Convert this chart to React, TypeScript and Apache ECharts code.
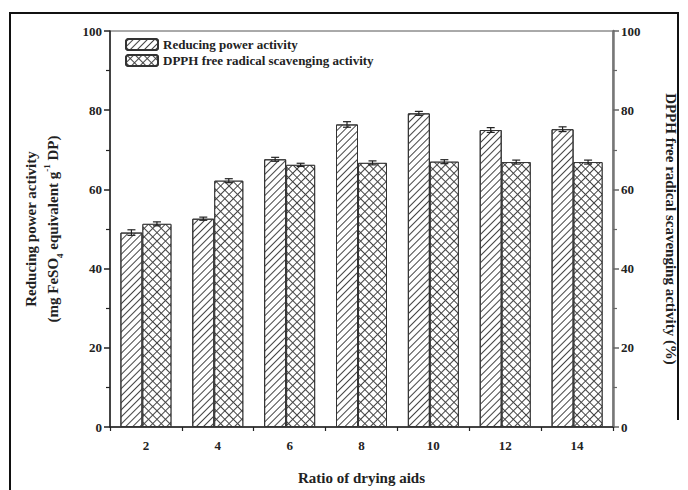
import React, { useEffect, useRef } from "react";
import * as echarts from "echarts";

const categories = ["2", "4", "6", "8", "10", "12", "14"];
const reducingPower = [49.1, 52.6, 67.6, 76.4, 79.2, 75.0, 75.2];
const reducingErr = [0.7, 0.4, 0.5, 0.7, 0.5, 0.6, 0.6];
const dpph = [51.3, 62.2, 66.2, 66.7, 67.0, 66.9, 66.9];
const dpphErr = [0.5, 0.5, 0.4, 0.5, 0.5, 0.5, 0.5];
const yTicks = { min: 0, max: 100, interval: 20 };

const FONT = "Liberation Serif";
const W1 = 22;
const W2 = 29;

function errSeries(name: string, vals: number[], errs: number[], offset: number, yAxisIndex: number) {
  return {
    type: "custom",
    name,
    yAxisIndex,
    silent: true,
    z: 5,
    data: vals.map((v, i) => [i, v, errs[i]]),
    renderItem: (params: any, api: any) => {
      const i = api.value(0);
      const v = api.value(1);
      const e = api.value(2);
      const top = api.coord([i, v + e]);
      const bot = api.coord([i, v - e]);
      const x = top[0] + offset;
      const style = { stroke: "#222", lineWidth: 1.2 };
      return {
        type: "group",
        children: [
          { type: "line", shape: { x1: x, y1: top[1], x2: x, y2: bot[1] }, style },
          { type: "line", shape: { x1: x - 4, y1: top[1], x2: x + 4, y2: top[1] }, style },
          { type: "line", shape: { x1: x - 4, y1: bot[1], x2: x + 4, y2: bot[1] }, style },
        ],
      };
    },
  };
}

export default function App() {
  const ref = useRef<HTMLDivElement>(null);
  useEffect(() => {
    document.body.style.margin = "0";
    if (!ref.current) return;
    const chart = echarts.init(ref.current, null, { renderer: "svg" });
    const labelStyle = { fontFamily: FONT, fontWeight: "bold" as const, fontSize: 13, color: "#222" };
    const groupStart = -(W1 + W2) / 2;
    const option: any = {
      animation: false,
      backgroundColor: "#fff",
      grid: { left: 110, right: 75, top: 31, bottom: 63, show: true, borderColor: "#555", borderWidth: 1 },
      legend: {
        orient: "vertical",
        left: 120,
        top: 33,
        itemWidth: 32,
        itemHeight: 11,
        itemGap: 3,
        data: ["Reducing power activity", "DPPH free radical scavenging activity"],
        textStyle: { fontFamily: FONT, fontWeight: "bold", fontSize: 13, color: "#222" },
      },
      xAxis: [
        {
          type: "category",
          data: categories,
          boundaryGap: true,
          name: "Ratio of drying aids",
          nameLocation: "middle",
          nameGap: 43,
          nameTextStyle: { fontFamily: FONT, fontWeight: "bold", fontSize: 15, color: "#222" },
          axisLine: { lineStyle: { color: "#222", width: 1.5 } },
          axisTick: { alignWithLabel: true, length: 7, lineStyle: { color: "#222", width: 1.5 } },
          axisLabel: { ...labelStyle, margin: 12 },
          splitLine: { show: false },
        },
        {
          type: "category",
          data: categories,
          position: "bottom",
          boundaryGap: true,
          axisLine: { show: false },
          axisLabel: { show: false },
          axisTick: { show: true, alignWithLabel: false, length: 4, lineStyle: { color: "#222", width: 1.2 } },
        },
      ],
      yAxis: [
        {
          type: "value",
          ...yTicks,
          position: "left",
          name:
            "{a|Reducing power activity}\n{b|(mg FeSO}{sub|4}{b| equivalent g}{sup|-1}{b| DP)}",
          nameLocation: "middle",
          nameRotate: 90,
          nameGap: 46,
          nameTextStyle: {
            fontFamily: FONT,
            fontWeight: "bold",
            color: "#222",
            lineHeight: 22,
            rich: {
              a: { fontFamily: FONT, fontWeight: "bold", fontSize: 15, color: "#222", lineHeight: 22 },
              b: { fontFamily: FONT, fontWeight: "bold", fontSize: 15, color: "#222", lineHeight: 22 },
              sub: { fontFamily: FONT, fontWeight: "bold", fontSize: 9, color: "#222", verticalAlign: "bottom", lineHeight: 19 },
              sup: { fontFamily: FONT, fontWeight: "bold", fontSize: 9, color: "#222", verticalAlign: "top", lineHeight: 19 },
            },
          },
          axisLine: { show: true, lineStyle: { color: "#222", width: 1.5 } },
          axisTick: { show: true, length: 6, inside: false, lineStyle: { color: "#222", width: 1.5 } },
          minorTick: { show: true, splitNumber: 2, length: 4, lineStyle: { color: "#222", width: 1.2 } },
          axisLabel: { ...labelStyle, margin: 8 },
          splitLine: { show: false },
        },
        {
          type: "value",
          ...yTicks,
          position: "right",
          name: "DPPH free radical scavenging activity (%)",
          nameLocation: "middle",
          nameRotate: -90,
          nameGap: 50,
          nameTextStyle: { fontFamily: FONT, fontWeight: "bold", fontSize: 15, color: "#222" },
          axisLine: { show: true, lineStyle: { color: "#777", width: 2.5 } },
          axisTick: { show: true, length: 6, inside: false, lineStyle: { color: "#666", width: 1.5 } },
          minorTick: { show: true, splitNumber: 2, length: 4, lineStyle: { color: "#666", width: 1.2 } },
          axisLabel: { ...labelStyle, margin: 8 },
          splitLine: { show: false },
        },
      ],
      series: [
        {
          type: "bar",
          name: "Reducing power activity",
          yAxisIndex: 0,
          data: reducingPower,
          barWidth: W1,
          barGap: "0%",
          itemStyle: {
            color: "#fff",
            borderColor: "#333",
            borderWidth: 1,
            decal: {
              symbol: "rect",
              symbolSize: 1,
              color: "#444",
              dashArrayX: [1, 0],
              dashArrayY: [1, 4],
              rotation: -Math.PI / 4,
            },
          },
        },
        {
          type: "bar",
          name: "DPPH free radical scavenging activity",
          yAxisIndex: 1,
          data: dpph,
          barWidth: W2,
          barGap: "0%",
          itemStyle: {
            color: "#444",
            borderColor: "#333",
            borderWidth: 1,
            decal: {
              symbol: "rect",
              symbolSize: 1,
              color: "#fff",
              dashArrayX: [4.2, 1],
              dashArrayY: [4.2, 1],
              rotation: Math.PI / 4,
            },
          },
        },
        errSeries("err1", reducingPower, reducingErr, groupStart + W1 / 2, 0),
        errSeries("err2", dpph, dpphErr, groupStart + W1 + W2 / 2, 1),
      ],
      graphic: [
        {
          type: "polyline",
          shape: { points: [[10, 490], [10, 13], [678, 13], [678, 420]] },
          style: { stroke: "#111", lineWidth: 2, fill: "none" },
          silent: true,
        },
      ],
    };
    chart.setOption(option);
    return () => chart.dispose();
  }, []);
  return <div ref={ref} style={{ width: 688, height: 490 }} />;
}
